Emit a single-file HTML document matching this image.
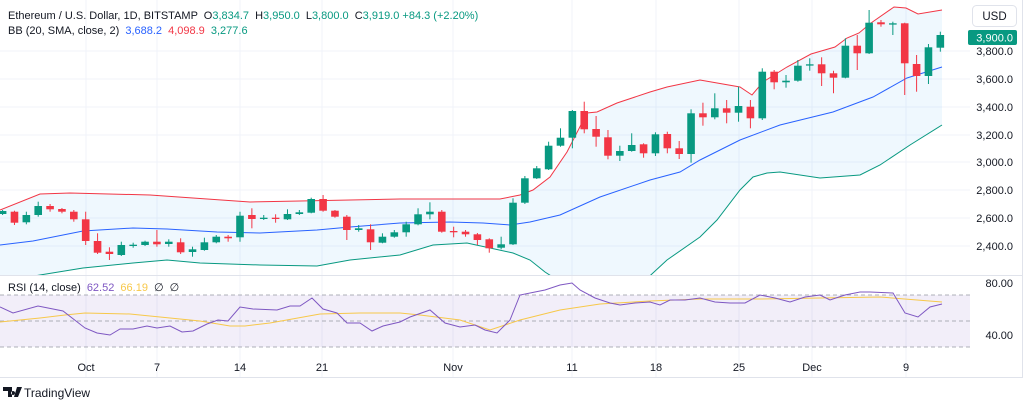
<!DOCTYPE html>
<html><head><meta charset="utf-8"><style>
html,body{margin:0;padding:0;background:#fff;width:1024px;height:404px;overflow:hidden}
svg{display:block;font-family:"Liberation Sans",sans-serif}
</style></head><body>
<svg id="s" width="1024" height="404" xmlns="http://www.w3.org/2000/svg"></svg>
<script>
const s=document.getElementById('s');let h='';
const G='#089981',R='#f23645';
// grid
[51,79,107,135,162,190,218,246].forEach(y=>h+=`<line x1="0" x2="970" y1="${y}" y2="${y}" stroke="#f0f3fa"/>`);
[86,157,240,322,453,572,656,739,812,906].forEach(x=>h+=`<line x1="${x}" x2="${x}" y1="0" y2="378" stroke="#f0f3fa"/>`);
function pts(a){return a.map(p=>p.join(',')).join(' ');}
const up=[[0,210],[40,194],[70,193],[150,195],[250,202],[300,201],[400,199],[500,199],[520,195],[533,190],[550,177],[567,152],[587,113],[597,112],[617,103],[650,92],[667,87],[700,80],[740,87],[752,95],[763,82],[787,67],[811,54],[835,47],[847,38],[859,33],[871,23],[894,7],[906,8],[918,14],[942,10]];
const mid=[[0,245],[33,241],[83,231],[133,228],[167,229],[217,232],[260,233],[317,230],[350,227],[400,223],[450,222],[483,223],[510,225],[530,222],[560,215],[600,197],[650,180],[680,172],[700,160],[740,140],[780,125],[833,112],[873,97],[907,78],[942,67]];
const lo=[[0,282],[40,275],[83,268],[133,263],[167,260],[200,263],[260,265],[317,266],[350,260],[400,255],[433,245],[467,243],[490,248],[513,253],[530,260],[545,272],[565,285],[600,300],[640,285],[667,260],[700,237],[717,220],[740,190],[753,177],[767,173],[780,172],[820,178],[860,175],[880,165],[910,145],[942,125]];
h+=`<defs><clipPath id="c"><rect x="0" y="0" width="970" height="275"/></clipPath></defs><g clip-path="url(#c)">`;
h+=`<polygon points="${pts(up)} ${pts(lo.slice().reverse())}" fill="#2196f3" fill-opacity="0.07"/>`;
h+=`<polyline points="${pts(up)}" fill="none" stroke="#f23645" stroke-width="1"/>`;
h+=`<polyline points="${pts(mid)}" fill="none" stroke="#2962ff" stroke-width="1"/>`;
h+=`<polyline points="${pts(lo)}" fill="none" stroke="#089981" stroke-width="1"/>`;
// candles: [color, bodyTop, bodyBot, wickTop, wickBot]
const C=[['g',211,214,210,215],['r',211.7,222.7,210.7,225],['g',215,222.3,211.7,224.3],['g',206,215,201.7,216.7],['r',206,209.3,204,211.7],['r',209,211.7,208,213.3],['r',211.7,219.3,210,221.7],['r',219.3,241,211.7,245],['r',241,252.7,233.3,254],['r',251.7,254,247.3,260],
['g',245,255,241.7,256],['g',244.7,245.7,242.7,247.7],['g',241.7,245,240.7,246],['r',241.7,244.3,230,246.7],['g',241.7,244,239.3,246.7],['r',242.3,252.3,238.3,254],['g',249.3,252,246.7,256.7],['g',242.3,250,237.7,250.7],['g',236.7,242.3,235,243.3],['r',236.7,238.3,235,241.7],
['g',215.7,237.3,211.7,241.7],['r',215,219,208.3,228.3],['g',217.7,218.7,215,220],['r',217.7,218.7,214.3,222.7],['g',214,219.3,209.3,220],['g',212.3,214,210,215],['g',199,212.7,197.7,213.3],['r',199,210.7,195,211.7],['r',210.7,216.7,210,217.7],['r',216.7,230,215,240],
['g',228.3,230,225,231.7],['r',229.3,242.3,224.3,250],['g',236.7,242.7,233.3,243.3],['g',232.3,236.7,230,237.7],['g',224.3,232.3,221.7,236.7],['g',214.3,224.3,208.3,225.3],['g',211.7,214.3,202.3,219.3],['r',211.7,231.7,210,232.7],['r',231,232.3,226.7,237.3],['r',231.7,234.3,230,236.7],
['r',234.3,240,233,245],['r',239.3,248.3,238.3,252.7],['g',244.3,247.7,236.7,249.3],['g',202.7,244.3,198.3,245],['g',178.3,202.7,176,204],['g',168.3,178.3,166,179],['g',145.7,169.3,141.7,170],['g',137.7,145.7,128.3,146.7],['g',111,137.7,110,148.3],['r',111,129.3,101.7,133.3],
['r',129,136.7,116,146.7],['r',137.3,155.7,130,159.3],['g',151,155.7,145.7,161],['g',145,151,133.3,151.7],['r',144.3,153.3,143.3,157.7],['g',134.3,153.3,132.3,156],['r',134,148.3,131.7,153.3],['r',148.3,154,141,159],['g',113.3,154,109.3,162.7],['r',113.3,117.3,102.7,125.7],
['g',108.3,117.3,93.3,119.3],['r',108.3,112.7,100,123.3],['g',106,112.7,86.7,121.7],['r',106.7,118.3,100,128.3],['g',71.7,118.3,68.3,120],['r',71.7,82.3,70,89.3],['g',80.7,82.3,75,87.7],['g',65.7,80.7,60,81.7],['g',64.3,65.3,58.3,70.7],['r',64.3,73.3,57.3,86],
['r',73.3,77.7,70.7,93.3],['g',45.7,77.7,38.3,78.3],['r',45.7,53.3,35,70],['g',22.7,53.3,10,54],['r',22.3,24.3,20,26.7],['g',23.3,24.3,21.7,35],['r',23.3,63.3,22.7,95],['r',64,76,55,91.7],['g',47.3,76,44,84],['g',35,47.7,31.7,51.7]];
C.forEach((c,i)=>{const x=2.6+i*11.87;const col=c[0]=='g'?G:R;
h+=`<line x1="${x}" x2="${x}" y1="${c[3]}" y2="${c[4]}" stroke="${col}" stroke-width="1"/>`;
h+=`<rect x="${x-3.8}" y="${c[1]}" width="7.6" height="${Math.max(1.3,c[2]-c[1])}" fill="${col}"/>`;});
h+=`</g>`;
// pane separator
h+=`<line x1="0" x2="1022" y1="275.5" y2="275.5" stroke="#e0e3eb"/>`;
// RSI
h+=`<rect x="0" y="295" width="970" height="52" fill="#7e57c2" fill-opacity="0.1"/>`;
[295,321,347].forEach(y=>h+=`<line x1="0" x2="970" y1="${y}" y2="${y}" stroke="#9598a1" stroke-dasharray="4,3" stroke-width="0.8"/>`);
const rsi=[[0,307],[13,313],[38,306],[63,311],[85,328],[97,333],[110,335],[120,329],[133,329],[147,326],[157,328],[170,326],[182,332],[193,331],[207,324],[218,320],[228,321],[240,307],[253,309],[277,310],[290,306],[300,306],[312,298],[323,309],[337,313],[347,323],[360,323],[372,331],[383,326],[400,322],[410,317],[430,310],[445,323],[460,327],[475,325],[485,330],[497,333],[510,320],[520,295],[535,292],[545,290],[560,285],[572,283],[580,290],[595,298],[610,303],[620,305],[635,303],[650,302],[660,305],[670,300],[685,300],[700,298],[715,302],[730,303],[745,303],[760,295],[775,298],[790,302],[805,297],[820,295],[830,300],[845,295],[860,292],[870,292],[893,293],[905,313],[918,317],[930,307],[942,304]];
const ma=[[0,322],[40,318],[65,315],[85,313],[130,314],[170,318],[200,321],[230,326],[245,326],[270,323],[320,314],[360,313],[400,313],[420,315],[460,320],[490,330],[520,320],[560,310],[600,304],[650,301],[700,299],[760,299],[820,298],[880,297],[942,302]];
h+=`<polyline points="${pts(ma)}" fill="none" stroke="#f7c84a" stroke-width="1"/>`;
h+=`<polyline points="${pts(rsi)}" fill="none" stroke="#7e57c2" stroke-width="1"/>`;
// axes
h+=`<line x1="1022.5" x2="1022.5" y1="0" y2="378" stroke="#e0e3eb"/>`;
h+=`<line x1="0" x2="1023" y1="377.5" y2="377.5" stroke="#e0e3eb"/>`;
[['3,800.0',51],['3,600.0',79],['3,400.0',107],['3,200.0',135],['3,000.0',162],['2,800.0',190],['2,600.0',218],['2,400.0',246],['80.00',283],['40.00',335]].forEach(([t,y])=>h+=`<text x="1013" y="${y+4}" font-size="11" fill="#131722" text-anchor="end">${t}</text>`);
h+=`<rect x="968" y="30" width="49" height="15" rx="2" fill="#089981"/><text x="1013" y="41.5" font-size="11" fill="#fff" text-anchor="end">3,900.0</text>`;
h+=`<rect x="972.5" y="5.5" width="44" height="21" rx="4" fill="#fff" stroke="#e0e3eb"/><text x="994.5" y="20" font-size="11.5" fill="#131722" text-anchor="middle">USD</text>`;
[['Oct',86],['7',157],['14',240],['21',322],['Nov',453],['11',572],['18',656],['25',739],['Dec',812],['9',906]].forEach(([t,x])=>h+=`<text x="${x}" y="371" font-size="11" fill="#131722" text-anchor="middle">${t}</text>`);
// legends
h+=`<text x="8" y="19" font-size="11" fill="#131722">Ethereum / U.S. Dollar, 1D, BITSTAMP <tspan dx="3">O</tspan><tspan fill="${G}">3,834.7</tspan> <tspan dx="3">H</tspan><tspan fill="${G}">3,950.0</tspan> <tspan dx="3">L</tspan><tspan fill="${G}">3,800.0</tspan> <tspan dx="3">C</tspan><tspan fill="${G}">3,919.0</tspan> <tspan fill="${G}">+84.3 (+2.20%)</tspan></text>`;
h+=`<text x="8" y="34" font-size="11" fill="#131722">BB (20, SMA, close, 2) <tspan dx="3" fill="#2962ff">3,688.2</tspan> <tspan dx="3" fill="${R}">4,098.9</tspan> <tspan dx="3" fill="${G}">3,277.6</tspan></text>`;
h+=`<text x="8" y="291" font-size="11" fill="#131722">RSI (14, close) <tspan dx="3" fill="#7e57c2">62.52</tspan> <tspan dx="3" fill="#f7c84a">66.19</tspan> <tspan dx="3">∅</tspan> <tspan dx="3">∅</tspan></text>`;
// logo
h+=`<path d="M3 387h9v10h-4v-6h-5z M13 391a2 2 0 1 0 0.1 0z M17 387h5l-4 10h-4z" fill="#131722"/>`;
h+=`<text x="24" y="397" font-size="12" fill="#131722">TradingView</text>`;
s.innerHTML=h;
</script>
</body></html>
